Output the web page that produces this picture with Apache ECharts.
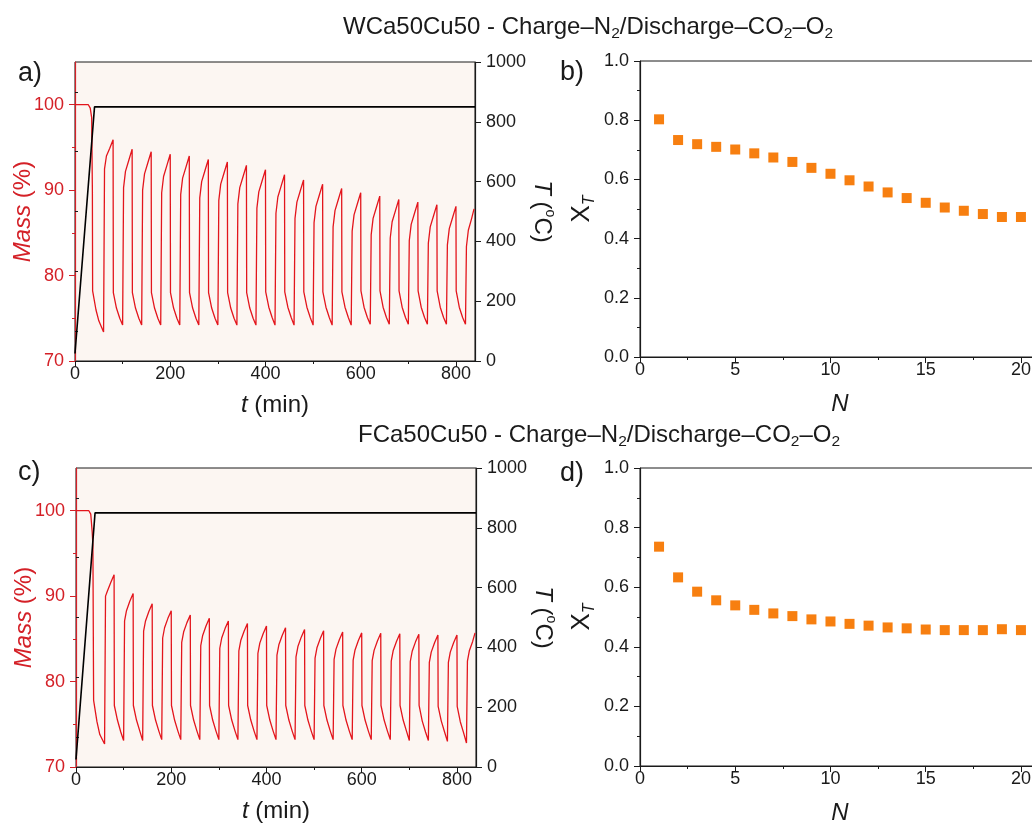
<!DOCTYPE html>
<html><head><meta charset="utf-8">
<script src="https://cdn.jsdelivr.net/npm/echarts@6/dist/echarts.min.js"></script>
<style>html,body{margin:0;padding:0;background:#fff}#c{width:1032px;height:827px}</style>
</head><body><div id="c"></div>
<script>
// ---------- data ----------
const cycleStart = [60,100,140,180,220,260,300,340,380,420,460,500,540,580,620,660,700,740,780,820];
const cycleN = [1,2,3,4,5,6,7,8,9,10,11,12,13,14,15,16,17,18,19,20];

// Panel a (WCa50Cu50)
const initA = [[0,100],[28,100],[32,99.6],[35,98.5],[36.5,90],[37,78.2],[44,76.0],[50,74.7]];
const minA   = [73.4,74.2,74.2,74.2,74.2,74.2,74.2,74.2,74.2,74.2,74.2,74.2,74.2,74.2,74.3,74.3,74.3,74.3,74.3,74.3];
const rise1A = [92.5,90.3,90.0,89.7,89.5,89.1,88.8,88.4,87.9,87.3,86.7,86.2,85.7,85.2,84.8,84.4,84.1,83.8,83.6,83.4];
const rise2A = [94.0,92.2,91.9,91.6,91.4,91.0,90.7,90.3,89.8,89.2,88.6,88.1,87.6,87.1,86.7,86.3,86.0,85.7,85.5,85.3];
const rise3A = [94.9,93.5,93.2,92.9,92.7,92.3,92.0,91.6,91.1,90.5,89.9,89.4,88.9,88.4,88.0,87.6,87.3,87.0,86.8,86.7];
const peakA  = [95.9,94.8,94.5,94.2,94.0,93.6,93.3,92.9,92.4,91.8,91.2,90.7,90.2,89.7,89.3,88.9,88.6,88.3,88.1];
const kneeA  = [78.0,78.0,78.0,78.0,78.0,78.0,78.0,78.0,78.1,78.1,78.1,78.1,78.1,78.2,78.2,78.2,78.2,78.2,78.2];
const decay1A= [76.2,76.2,76.2,76.2,76.2,76.2,76.2,76.2,76.3,76.3,76.3,76.3,76.3,76.3,76.3,76.3,76.3,76.3,76.3];
const decay2A= [75.0,75.0,75.0,75.0,75.0,75.0,75.0,75.0,75.1,75.1,75.1,75.1,75.1,75.1,75.1,75.1,75.1,75.1,75.1];
const endA = [838, 87.8];
const tempA = [[0,25],[41,850],[840,850]];
const xtB = [0.803,0.733,0.719,0.710,0.701,0.688,0.674,0.659,0.639,0.619,0.597,0.576,0.556,0.537,0.521,0.505,0.494,0.483,0.473,0.473];

// Panel c (FCa50Cu50)
const initC = [[0,100],[27,100],[31,99.6],[34,97.5],[35.5,96.0],[37,77.8],[44,75.3],[50,73.8]];
const minC   = [72.7,73.1,73.1,73.2,73.2,73.2,73.2,73.2,73.2,73.2,73.2,73.2,73.2,73.2,73.2,73.2,73.1,73.1,73.0,72.8];
const rise1C = [90.0,87.1,85.9,85.1,84.6,84.2,83.9,83.6,83.3,83.1,82.9,82.75,82.6,82.5,82.45,82.4,82.35,82.25,82.25,82.4];
const rise2C = [90.6,88.3,87.1,86.3,85.8,85.4,85.1,84.8,84.5,84.3,84.1,83.95,83.8,83.7,83.65,83.6,83.55,83.45,83.45,83.6];
const rise3C = [91.6,89.4,88.2,87.4,86.9,86.5,86.2,85.9,85.6,85.4,85.2,85.05,84.9,84.8,84.75,84.7,84.65,84.55,84.55,84.7];
const peakC  = [92.5,90.3,89.1,88.3,87.8,87.4,87.1,86.8,86.5,86.3,86.1,85.95,85.8,85.7,85.65,85.6,85.55,85.45,85.45];
const kneeC  = [77.2,77.2,77.2,77.2,77.2,77.2,77.2,77.2,77.2,77.2,77.2,77.2,77.2,77.2,77.2,77.2,77.2,77.1,77.1];
const decay1C= [75.5,75.5,75.5,75.5,75.5,75.5,75.5,75.5,75.5,75.5,75.5,75.5,75.5,75.5,75.5,75.5,75.4,75.4,75.3];
const decay2C= [74.1,74.2,74.2,74.2,74.2,74.2,74.2,74.2,74.2,74.2,74.2,74.2,74.2,74.2,74.2,74.2,74.1,74.1,74.0];
const endC = [838, 85.7];
const tempC = [[0,25],[40,850],[840,850]];
const xtD = [0.736,0.633,0.585,0.556,0.539,0.524,0.512,0.503,0.492,0.485,0.477,0.471,0.465,0.462,0.458,0.456,0.456,0.456,0.459,0.456];

const massTicks = [70,80,90,100], massMinor = [75,85,95];
const tTicks = [0,200,400,600,800], tMinor = [100,300,500,700];
const TTicks = [0,200,400,600,800,1000], TMinor = [100,300,500,700,900];
const nTicks = [0,5,10,15,20], nMinor = [2.5,7.5,12.5,17.5];
const xtTicks = [0,0.2,0.4,0.6,0.8,1.0], xtMinor = [0.1,0.3,0.5,0.7,0.9];

// ---------- build polylines ----------
function buildMass(init, mins, r1, r2, r3, peaks, knees, d1, d2, end) {
  const out = init.map(p => p.slice());
  for (let k = 0; k < cycleStart.length; k++) {
    const t0 = cycleStart[k];
    out.push([t0, mins[k]], [t0 + 2, r1[k]], [t0 + 6, r2[k]], [t0 + 13, r3[k]]);
    if (k < peaks.length) {
      out.push([t0 + 20, peaks[k]], [t0 + 20.5, knees[k]], [t0 + 27, d1[k]], [t0 + 34, d2[k]]);
    } else {
      out.push(end);
    }
  }
  return out;
}
const massA = buildMass(initA, minA, rise1A, rise2A, rise3A, peakA, kneeA, decay1A, decay2A, endA);
const massC = buildMass(initC, minC, rise1C, rise2C, rise3C, peakC, kneeC, decay1C, decay2C, endC);

// ---------- style ----------
const FONT = '"Liberation Sans", Arial, Helvetica, sans-serif';
const RED = '#d42027', LINE_RED = '#e3151c', INK = '#1a1a1a', ORANGE = '#f77f10', BG = '#fcf6f2';
const labelSize = 18, nameSize = 24;

function xAxes(grid, min, max, ticks, minor, name, gap) {
  return [
    { type:'value', gridIndex:grid, min, max, position:'bottom',
      axisLine:{show:true, lineStyle:{color:INK, width:1}},
      axisTick:{show:true, customValues:ticks, length:6, inside:false, lineStyle:{color:INK, width:1}},
      axisLabel:{show:true, customValues:ticks, fontSize:labelSize, color:INK, fontFamily:FONT, margin:4},
      splitLine:{show:false}, minorTick:{show:false},
      name, nameLocation:'middle', nameGap:gap, nameMoveOverlap:false,
      nameTextStyle:{fontSize:nameSize, color:INK, fontFamily:FONT, rich:{i:{fontStyle:'italic', fontSize:nameSize, fontFamily:FONT, color:INK}}}
    },
    { type:'value', gridIndex:grid, min, max, position:'bottom',
      axisLine:{show:false},
      axisTick:{show:true, customValues:minor, length:3, inside:false, lineStyle:{color:INK, width:1}},
      axisLabel:{show:false}, splitLine:{show:false}
    }
  ];
}
function yAxis(grid, min, max, ticks, minor, pos, color, fmt, name, gap, rot, rich) {
  return [
    { type:'value', gridIndex:grid, min, max, position:pos,
      axisLine:{show:true, onZero:false, lineStyle:{color, width:1.2}},
      axisTick:{show:true, customValues:ticks, length:6, inside:false, lineStyle:{color, width:1}},
      axisLabel:{show:true, customValues:ticks, fontSize:labelSize, color, fontFamily:FONT, margin:11, formatter:fmt},
      splitLine:{show:false}, minorTick:{show:false},
      name, nameLocation:'middle', nameGap:gap, nameRotate:rot, nameMoveOverlap:false,
      nameTextStyle:{fontSize:nameSize, color, fontFamily:FONT, rich}
    },
    { type:'value', gridIndex:grid, min, max, position:pos,
      axisLine:{show:false},
      axisTick:{show:true, customValues:minor, length:3, inside:false, lineStyle:{color, width:1}},
      axisLabel:{show:false}, splitLine:{show:false}
    }
  ];
}
const richMass = { i:{fontStyle:'italic', fontSize:nameSize, color:RED, fontFamily:FONT}, n:{fontSize:nameSize, color:RED, fontFamily:FONT} };
const richT = { i:{fontStyle:'italic', fontSize:nameSize, color:INK, fontFamily:FONT, lineHeight:30},
                n:{fontSize:nameSize, color:INK, fontFamily:FONT, lineHeight:30},
                o:{fontSize:14, color:INK, fontFamily:FONT, lineHeight:14, verticalAlign:'top'} };
const richX = { x:{fontSize:26, color:INK, fontFamily:FONT, lineHeight:32},
                s:{fontSize:16, fontStyle:'italic', color:INK, fontFamily:FONT, lineHeight:14, verticalAlign:'bottom'} };
const f1 = v => v.toFixed(1);
const f0 = v => String(v);

const grids = [
  {left:75, top:62, width:400, height:299},
  {left:640, top:61, width:400, height:296},
  {left:76, top:468, width:400, height:299},
  {left:640, top:468, width:400, height:298}
].map(g => Object.assign({show:true, borderColor:INK, borderWidth:1, backgroundColor:'transparent', containLabel:false, outerBoundsMode:'none'}, g));
grids[0].backgroundColor = BG; grids[2].backgroundColor = BG;

const xAxisList = [].concat(
  xAxes(0, 0, 840, tTicks, tMinor, '{i|t} (min)', 32),   // 0,1
  xAxes(1, 0, 21, nTicks, nMinor, '{i|N}', 35),         // 2,3
  xAxes(2, 0, 840, tTicks, tMinor, '{i|t} (min)', 32),   // 4,5
  xAxes(3, 0, 21, nTicks, nMinor, '{i|N}', 35)          // 6,7
);
const yAxisList = [].concat(
  yAxis(0, 70, 105, massTicks, massMinor, 'left', RED, f0, '{i|Mass} {n|(%)}', 40, 90, richMass),   // 0,1
  yAxis(0, 0, 1000, TTicks, TMinor, 'right', INK, f0, '{i|T} {n|(}{o|o}{n|C)}', 52, -90, richT),     // 2,3
  yAxis(1, 0, 1, xtTicks, xtMinor, 'left', INK, f1, '{x|X}{s|T}', 42, 90, richX),                   // 4,5
  yAxis(2, 70, 105, massTicks, massMinor, 'left', RED, f0, '{i|Mass} {n|(%)}', 40, 90, richMass),   // 6,7
  yAxis(2, 0, 1000, TTicks, TMinor, 'right', INK, f0, '{i|T} {n|(}{o|o}{n|C)}', 52, -90, richT),     // 8,9
  yAxis(3, 0, 1, xtTicks, xtMinor, 'left', INK, f1, '{x|X}{s|T}', 42, 90, richX)                    // 10,11
);

const richSub = { s:{fontSize:15.5, lineHeight:14, verticalAlign:'bottom', color:INK, fontFamily:FONT} };
function titleText(text, left, top) {
  return { text, left, top, padding:0, textStyle:{fontSize:24, lineHeight:30, fontWeight:'normal', color:INK, fontFamily:FONT, rich:richSub} };
}
function panelLabel(text, left, top) {
  return { text, left, top, padding:0, textStyle:{fontSize:27, lineHeight:28, fontWeight:'normal', color:INK, fontFamily:FONT} };
}

const option = {
  animation:false,
  backgroundColor:'#ffffff',
  title:[
    titleText('WCa50Cu50 - Charge–N{s|2}/Discharge–CO{s|2}–O{s|2}', 343, 12),
    titleText('FCa50Cu50 - Charge–N{s|2}/Discharge–CO{s|2}–O{s|2}', 358, 420),
    panelLabel('a)', 18, 60), panelLabel('b)', 560, 59),
    panelLabel('c)', 18, 459), panelLabel('d)', 560, 460)
  ],
  grid:grids,
  xAxis:xAxisList,
  yAxis:yAxisList,
  series:[
    {type:'line', xAxisIndex:0, yAxisIndex:0, data:massA, symbol:'none', lineStyle:{color:LINE_RED, width:1.3}, z:2},
    {type:'line', xAxisIndex:0, yAxisIndex:2, data:tempA, symbol:'none', lineStyle:{color:'#000', width:1.6}, z:3},
    {type:'scatter', xAxisIndex:2, yAxisIndex:4, data:cycleN.map((n,i)=>[n, xtB[i]]), symbol:'rect', symbolSize:10, itemStyle:{color:ORANGE, opacity:1}},
    {type:'line', xAxisIndex:4, yAxisIndex:6, data:massC, symbol:'none', lineStyle:{color:LINE_RED, width:1.3}, z:2},
    {type:'line', xAxisIndex:4, yAxisIndex:8, data:tempC, symbol:'none', lineStyle:{color:'#000', width:1.6}, z:3},
    {type:'scatter', xAxisIndex:6, yAxisIndex:10, data:cycleN.map((n,i)=>[n, xtD[i]]), symbol:'rect', symbolSize:10, itemStyle:{color:ORANGE, opacity:1}}
  ]
};
const chart = echarts.init(document.getElementById('c'), null, {renderer:'canvas'});
chart.setOption(option);
</script>
</body></html>
